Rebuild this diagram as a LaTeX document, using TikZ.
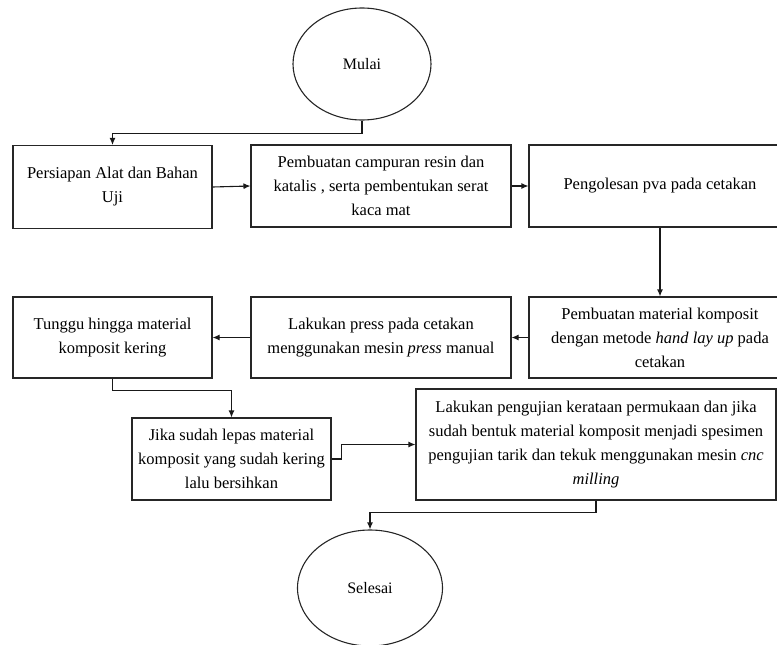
\documentclass[tikz,border=0pt]{standalone}
\usepackage{fontspec}
\setmainfont{Liberation Serif}
\usetikzlibrary{arrows.meta,shapes.geometric}
\tikzset{
	kotak/.style={draw=black!85, line width=1.1pt, align=center, inner sep=2pt, font=\fontsize{16.5}{24}\selectfont},
	bulat/.style={draw=black!85, line width=1.1pt, ellipse, inner sep=0pt, font=\fontsize{16}{20}\selectfont},
	panah/.style={draw=black!90, line width=1.1pt, -{Latex[length=7pt,width=6pt]}}
}

\begin{document}
\begin{tikzpicture}[x=1pt,y=-1pt]
		%%%%% START %%%%%
		\useasboundingbox (0,0) rectangle (777,645);
		
		\node[bulat, minimum width=138pt, minimum height=112pt] (mulai) at (362,64) {Mulai};
		
		\node[kotak, minimum width=199pt, minimum height=83pt] (persiapan) at (112.5,187) {Persiapan Alat dan Bahan\\Uji};
		\node[kotak, minimum width=260pt, minimum height=82pt] (campuran) at (381,186) {Pembuatan campuran resin dan\\katalis , serta pembentukan serat\\kaca mat};
		\node[kotak, minimum width=262pt, minimum height=82pt] (pva) at (660,186) {Pengolesan pva pada cetakan};
		
		\node[kotak, minimum width=262pt, minimum height=81pt] (komposit) at (660,337.5) {Pembuatan material komposit\\dengan metode \textit{hand lay up} pada\\cetakan};
		\node[kotak, minimum width=260pt, minimum height=81pt] (press) at (381,337.5) {Lakukan press pada cetakan\\menggunakan mesin \textit{press} manual};
		\node[kotak, minimum width=199pt, minimum height=81pt] (tunggu) at (112.5,337.5) {Tunggu hingga material\\komposit kering};
		
		\node[kotak, minimum width=199pt, minimum height=82pt] (lepas) at (231.5,459) {Jika sudah lepas material\\komposit yang sudah kering\\lalu bersihkan};
		\node[kotak, minimum width=360pt, minimum height=111pt] (pengujian) at (596,444.5) {Lakukan pengujian kerataan permukaan dan jika\\sudah bentuk material komposit menjadi spesimen\\pengujian tarik dan tekuk menggunakan mesin \textit{cnc}\\\textit{milling}};
		
		\node[bulat, minimum width=145pt, minimum height=116pt] (selesai) at (370,588) {Selesai};
		
		\draw[panah] (mulai.south) -- ++(0,13) -| (persiapan.north);
		\draw[panah] (persiapan.east) -- (campuran.west);
		\draw[panah] (campuran.east) -- (pva.west);
		\draw[panah] (pva.south) -- (komposit.north);
		\draw[panah] (komposit.west) -- (press.east);
		\draw[panah] (press.west) -- (tunggu.east);
		\draw[panah] (tunggu.south) -- ++(0,12) -| (lepas.north);
		\draw[panah] (lepas.east) -- ++(10,0) |- (pengujian.west);
		\draw[panah] (pengujian.south) -- ++(0,12) -| (selesai.north);
		
		%%%%% END %%%%%
\end{tikzpicture}
\end{document}
